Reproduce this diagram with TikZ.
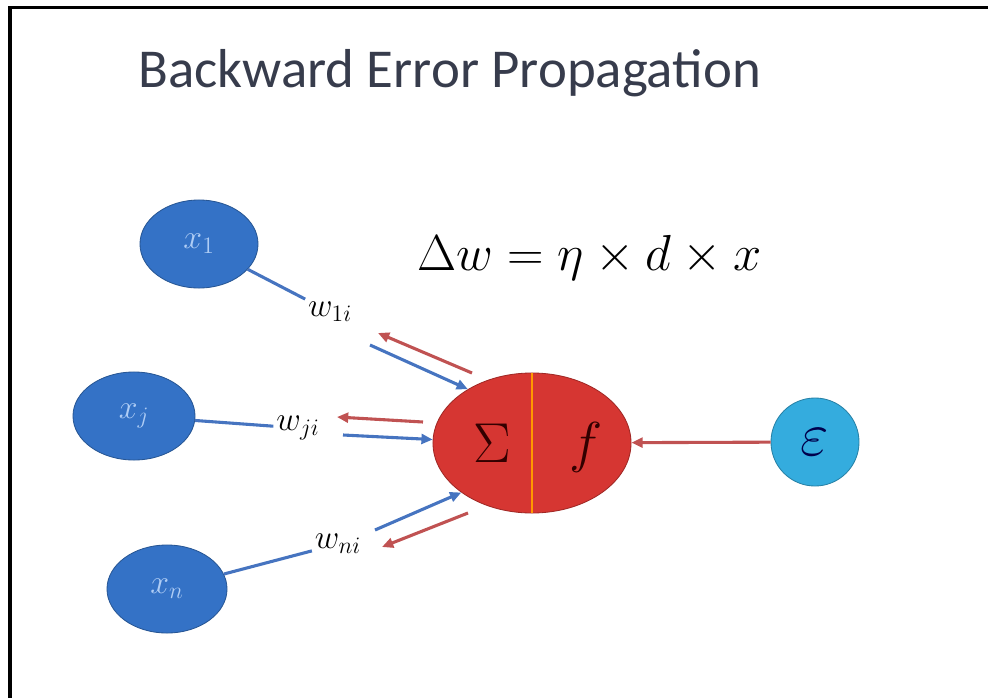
\RequirePackage{fix-cm}
\documentclass[tikz,border=0pt]{standalone}
\usepackage{amsmath}
\usepackage{fontspec}
\newfontfamily\titlefont{Carlito}
\usetikzlibrary{calc, positioning, arrows.meta, shapes.geometric}
\definecolor{nodeblue}{RGB}{52,114,198}
\definecolor{inputtext}{RGB}{175,205,245}
\definecolor{neuronred}{RGB}{214,54,50}
\definecolor{errcyan}{RGB}{52,172,222}
\definecolor{linkblue}{RGB}{70,116,192}
\definecolor{linkred}{RGB}{192,82,82}
\definecolor{titlegray}{RGB}{55,60,76}

\begin{document}
\begin{tikzpicture}[
  x=0.025cm, y=-0.025cm,
  inp/.style={
    ellipse, draw=nodeblue!75!black, fill=nodeblue, line width=0.6pt,
    minimum width=#1, minimum height=2.2cm, inner sep=0pt,
    font=\fontsize{24}{28}\selectfont, text=inputtext
  },
  inp/.default=3cm,
  neuron/.style={
    ellipse, draw=neuronred!75!black, fill=neuronred, line width=0.6pt,
    minimum width=4.95cm, minimum height=3.5cm, inner sep=0pt
  },
  errnode/.style={
    circle, draw=errcyan!75!black, fill=errcyan, line width=0.6pt,
    minimum size=2.2cm, inner sep=0pt,
    font=\fontsize{44}{48}\selectfont, text=black!70!blue
  },
  sym/.style={font=\fontsize{40}{44}\selectfont, text=black!80!red, inner sep=0pt},
  wlabel/.style={font=\fontsize{24}{28}\selectfont, inner sep=2pt},
  link/.style={line width=2.2pt, color=linkblue},
  fwd/.style={-{Triangle[length=8pt, width=7pt]}, line width=2.2pt, color=linkblue},
  back/.style={-{Triangle[length=8pt, width=7pt]}, line width=2.2pt, color=linkred},
  divider/.style={line width=2pt, color=orange!80!yellow}
]
\useasboundingbox (0,0) rectangle (988,698);

%% marco
\draw[line width=2.8pt] (10,698) -- (10,7.5) -- (988,7.5);

%% ═══════════════════════════════════════════════
%% Titulo y regla
%% ═══════════════════════════════════════════════
\node[anchor=base west, inner sep=0pt, text=titlegray,
      font=\titlefont\fontsize{39}{45}\selectfont]
  (title) at (138,87) {Backward Error Propagation};
\node[anchor=base west, inner sep=0pt, font=\fontsize{36}{42}\selectfont]
  (rule) at (417,270) {$\Delta w=\eta\times d\times x$};

%% ═══════════════════════════════════════════════
%% Nodos
%% ═══════════════════════════════════════════════
\node[inp=2.95cm] (x1) at (199,244) {$x_1$};
\node[inp=3.05cm] (xj) at (134,416) {$x_j$};
\node[inp=3.0cm]  (xn) at (167,589) {$x_n$};

\node[neuron] (neuron) at (532,443) {};
\draw[divider] (neuron.north) -- (neuron.south);
\node[sym] (sigma) at ($(neuron)+(-40,0)$) {$\Sigma$};
\node[sym] (func) at ($(neuron)+(54,4)$) {$f$};

\node[errnode] (eps) at (815,442) {$\varepsilon$};

%% pesos
\node[wlabel] (w1) at (330,312) {$w_{1i}$};
\node[wlabel] (wj) at (298,428) {$w_{ji}$};
\node[wlabel] (wn) at (338,544) {$w_{ni}$};

%% ── Flechas ────────────────────────────────────
\draw[link] (x1) -- (w1);
\draw[link] (xj) -- (wj);
\draw[link] (xn) -- (wn);

%% hacia adelante (azul) / hacia atras (rojo)
\coordinate (f1) at (370,345);
\coordinate (r1a) at (472,373);
\coordinate (r1b) at (378,333);
\draw[fwd] (f1) -- (neuron.140);
\draw[back] (r1a) -- (r1b);

\coordinate (fj) at (343,435);
\coordinate (rja) at (423,422);
\coordinate (rjb) at (337,417);
\draw[fwd] (fj) -- (neuron.178);
\draw[back] (rja) -- (rjb);

\coordinate (fn) at (375,530);
\coordinate (rna) at (468,513);
\coordinate (rnb) at (382,547);
\draw[fwd] (fn) -- (neuron.215);
\draw[back] (rna) -- (rnb);

%% error
\draw[back] (eps) -- (neuron);

\end{tikzpicture}
\end{document}
